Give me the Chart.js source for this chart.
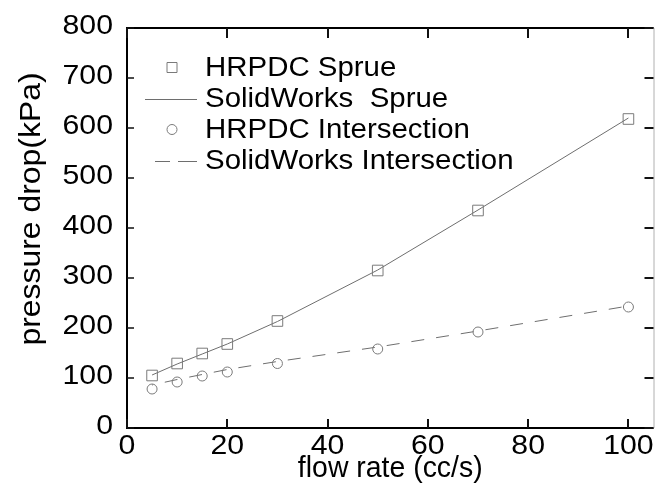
<!DOCTYPE html>
<html>
<head>
<meta charset="utf-8">
<script src="https://cdn.jsdelivr.net/npm/chart.js@4/dist/chart.umd.min.js"></script>
<style>
  html, body { margin: 0; padding: 0; background: #fff; }
  #wrap { width: 662px; height: 502px; }
</style>
</head>
<body>
<div id="wrap"><canvas id="c" width="662" height="502"></canvas></div>
<script>
// Flow rates (cc/s) at which pressure drop was evaluated
const flowRate = [5, 10, 15, 20, 30, 50, 70, 100];
// Pressure drop (kPa)
const hrpdcSprue = [105, 129, 149, 168, 214, 315, 435, 618];
const solidworksSprue = [106, 128, 148, 168, 213, 316, 436, 620];
const hrpdcIntersection = [78, 92, 104, 112, 129, 158, 192, 242];
const solidworksIntersection = [86, 97, 107, 117, 133, 162, 194, 244];

const xTicks = [0, 20, 40, 60, 80, 100];
const yTicks = [0, 100, 200, 300, 400, 500, 600, 700, 800];

const xTitle = 'flow rate (cc/s)';
const yTitle = 'pressure drop(kPa)';

const FONT = '"Liberation Sans", Arial, sans-serif';
const MARK = '#7a7a7a';
const LINE = '#6e6e6e';

const pts = ys => flowRate.map((x, i) => ({ x: x, y: ys[i] }));

// Text with an adjustable horizontal scale
function wideText(ctx, str, x, y, size, stretch, align) {
  ctx.save();
  ctx.font = size + 'px ' + FONT;
  ctx.textBaseline = 'alphabetic';
  ctx.textAlign = align;
  ctx.translate(x, y);
  ctx.scale(stretch, 1);
  ctx.fillText(str, 0, 0);
  ctx.restore();
}

// Frame with inward ticks on all four sides, tick labels, axis titles and an in-plot legend
const framePlugin = {
  id: 'frame',
  afterDraw(chart) {
    const { ctx, chartArea: a, scales } = chart;
    const xs = scales.x, ys = scales.y;
    ctx.save();
    ctx.strokeStyle = '#000';
    ctx.lineWidth = 2;
    ctx.beginPath();
    ctx.moveTo(a.right, a.top); ctx.lineTo(a.left, a.top);
    ctx.lineTo(a.left, a.bottom); ctx.lineTo(a.right, a.bottom);
    ctx.stroke();
    ctx.strokeStyle = '#b0b0b0';
    ctx.lineWidth = 1;
    ctx.beginPath();
    ctx.moveTo(a.right + 0.5, a.top); ctx.lineTo(a.right + 0.5, a.bottom);
    ctx.stroke();

    ctx.strokeStyle = '#111';
    ctx.lineWidth = 2;
    ctx.beginPath();
    xTicks.forEach(v => {
      const p = Math.round(xs.getPixelForValue(v));
      ctx.moveTo(p, a.bottom); ctx.lineTo(p, a.bottom - 9);
      ctx.moveTo(p, a.top); ctx.lineTo(p, a.top + 10);
    });
    yTicks.forEach(v => {
      const p = Math.round(ys.getPixelForValue(v));
      ctx.moveTo(a.right, p); ctx.lineTo(a.right - 9, p);
    });
    ctx.stroke();
    ctx.lineWidth = 1.5;
    ctx.beginPath();
    yTicks.forEach(v => {
      const p = Math.round(ys.getPixelForValue(v));
      ctx.moveTo(a.left, p); ctx.lineTo(a.left + 7, p);
    });
    ctx.stroke();

    // tick labels
    ctx.fillStyle = '#000';
    yTicks.forEach(v => {
      wideText(ctx, String(v), 113, ys.getPixelForValue(v) + 6, 27, 1.12, 'right');
    });
    xTicks.forEach(v => {
      wideText(ctx, String(v), xs.getPixelForValue(v), 454, 27, 1.12, 'center');
    });

    // axis titles
    wideText(ctx, xTitle, (a.left + a.right) / 2, 477, 29, 0.98, 'center');
    ctx.save();
    ctx.translate(40, 209);
    ctx.rotate(-Math.PI / 2);
    wideText(ctx, yTitle, 0, 0, 29, 1.1, 'center');
    ctx.restore();

    // legend
    const rows = [76, 107, 138, 169];
    const marks = [66.7, 99, 129.5, 160.5];
    chart.data.datasets.forEach((ds, i) => {
      ctx.fillStyle = '#000';
      wideText(ctx, ds.label, 205, rows[i], 27, 1.09, 'left');
      const y = Math.round(marks[i]) + 0.5;
      ctx.strokeStyle = ds.borderColor;
      ctx.lineWidth = 1;
      ctx.beginPath();
      if (ds.showLine && ds.borderDash) {
        ctx.moveTo(155, y); ctx.lineTo(170, y);
        ctx.moveTo(178, y); ctx.lineTo(197, y);
      } else if (ds.showLine) {
        ctx.moveTo(145, y); ctx.lineTo(197, y);
      } else if (ds.pointStyle === 'rect') {
        ctx.rect(167, Math.round(marks[i]) - 4.5, 10, 10);
      } else {
        ctx.arc(172, marks[i], 5, 0, Math.PI * 2);
      }
      ctx.stroke();
    });
    ctx.restore();
  }
};

new Chart(document.getElementById('c'), {
  type: 'scatter',
  data: {
    datasets: [
      { label: 'HRPDC Sprue', data: pts(hrpdcSprue), showLine: false,
        pointStyle: 'rect', pointRadius: 7.5, borderColor: MARK, backgroundColor: 'rgba(0,0,0,0)', borderWidth: 1 },
      { label: 'SolidWorks  Sprue', data: pts(solidworksSprue), showLine: true,
        pointRadius: 0, borderColor: LINE, borderWidth: 1 },
      { label: 'HRPDC Intersection', data: pts(hrpdcIntersection), showLine: false,
        pointStyle: 'circle', pointRadius: 5, borderColor: MARK, backgroundColor: 'rgba(0,0,0,0)', borderWidth: 1 },
      { label: 'SolidWorks Intersection', data: pts(solidworksIntersection), showLine: true,
        pointRadius: 0, borderColor: LINE, borderWidth: 1, borderDash: [13, 12], borderDashOffset: 12 }
    ]
  },
  options: {
    responsive: false,
    animation: false,
    events: [],
    layout: { padding: { left: 0, right: 0, top: 28, bottom: 0 } },
    plugins: { legend: { display: false }, tooltip: { enabled: false } },
    scales: {
      x: {
        type: 'linear', min: 0, max: 105,
        grid: { display: false, drawTicks: false },
        border: { display: false },
        ticks: { display: false, stepSize: 20, includeBounds: false },
        afterFit(s) { s.height = 74; }
      },
      y: {
        type: 'linear', min: 0, max: 800,
        grid: { display: false, drawTicks: false },
        border: { display: false },
        ticks: { display: false, stepSize: 100 },
        afterFit(s) { s.width = 127; }
      }
    }
  },
  plugins: [framePlugin]
});
</script>
</body>
</html>
